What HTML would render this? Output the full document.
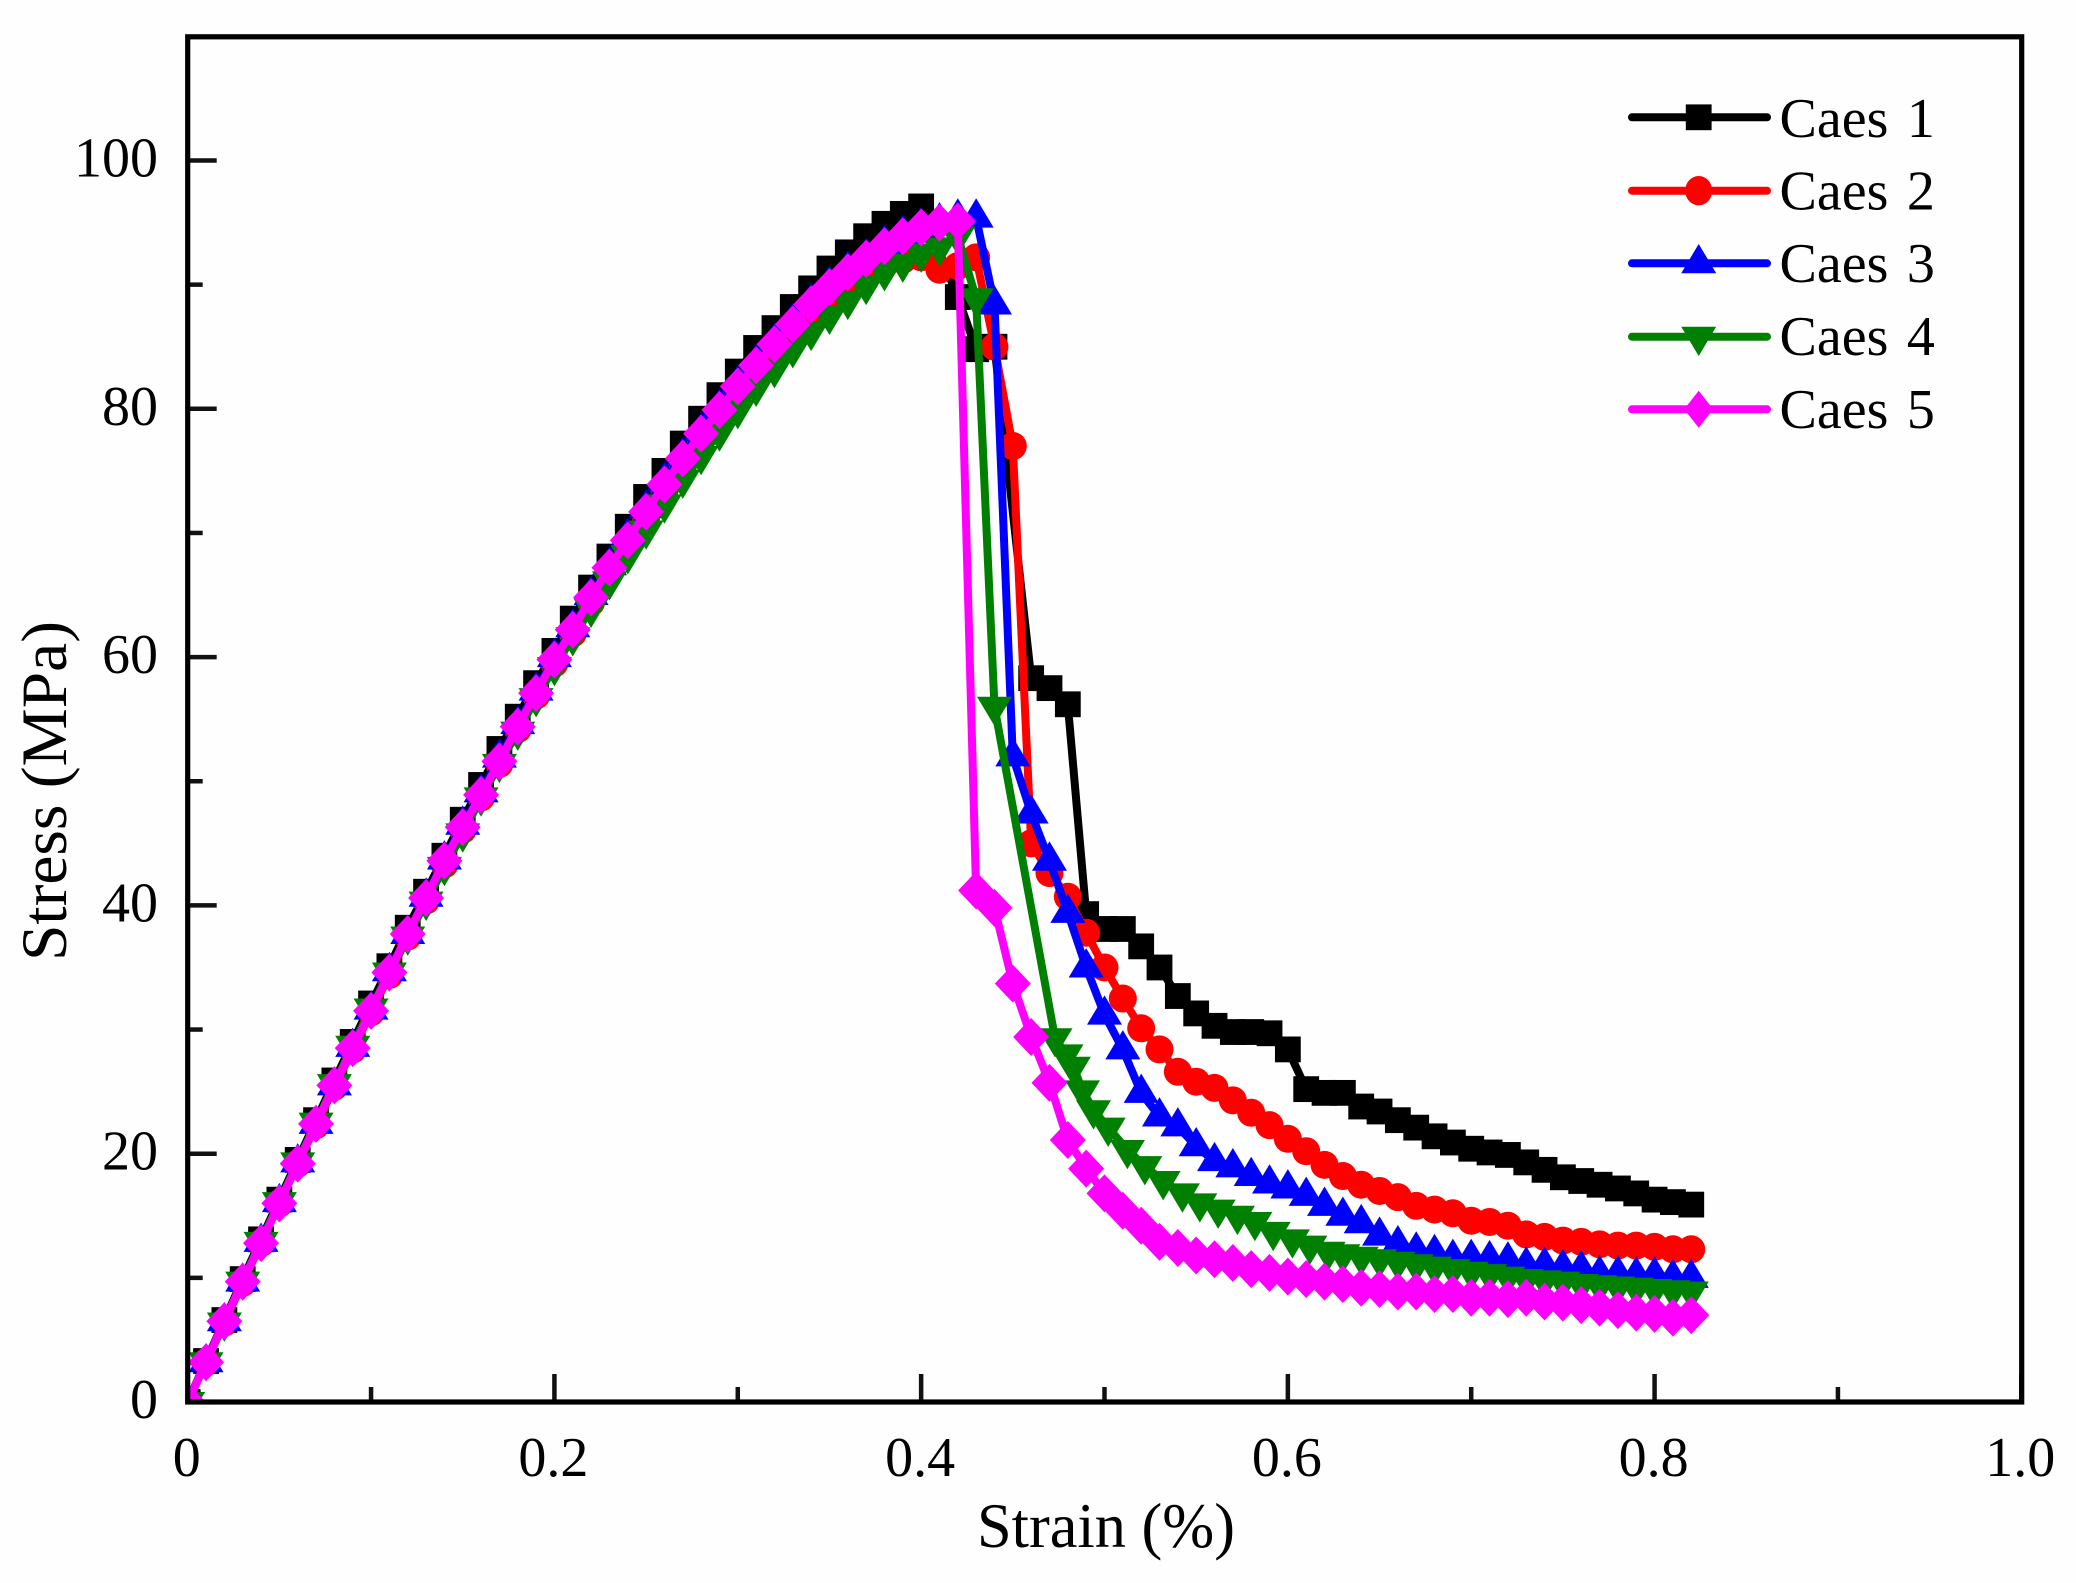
<!DOCTYPE html>
<html lang="en">
<head>
<meta charset="utf-8">
<title>Stress-strain curves</title>
<style>
html,body{margin:0;padding:0;background:#fefefe;}
svg{display:block;font-family:"Liberation Serif",serif;}
text{fill:#000;}
</style>
</head>
<body>
<svg id="chart" xmlns="http://www.w3.org/2000/svg" width="2076" height="1583" viewBox="0 0 2076 1583">
  <rect x="0" y="0" width="2076" height="1583" fill="#fefefe"/>
  <defs>
    <clipPath id="plot-clip"><rect x="187.7" y="36.8" width="1834" height="1365.2"/></clipPath>
  </defs>
  <g id="series-layer" clip-path="url(#plot-clip)"></g>
  <g id="tick-layer"></g>
  <rect x="187.7" y="36.8" width="1834" height="1365.2" fill="none" stroke="#000" stroke-width="5.2"/>
  <g id="label-layer" font-size="56"></g>
  <text x="1106" y="1547" font-size="63" text-anchor="middle" textLength="258" lengthAdjust="spacingAndGlyphs">Strain (%)</text>
  <text transform="translate(66,791) rotate(-90)" font-size="65" text-anchor="middle" textLength="340" lengthAdjust="spacingAndGlyphs">Stress (MPa)</text>

  <g font-size="56" word-spacing="4.5">
    <g>
      <line x1="1632" y1="117.3" x2="1767" y2="117.3" stroke="#000" stroke-width="8" stroke-linecap="round"/>
      <rect x="1685.8" y="104.4" width="25.8" height="25.8" fill="#000"/>
      <text x="1779.5" y="137">Caes 1</text>
    </g>
    <g>
      <line x1="1632" y1="190.7" x2="1767" y2="190.7" stroke="#f00" stroke-width="8" stroke-linecap="round"/>
      <ellipse cx="1698.7" cy="190.7" rx="13.5" ry="14.7" fill="#f00"/>
      <text x="1779.5" y="209.5">Caes 2</text>
    </g>
    <g>
      <line x1="1632" y1="263.3" x2="1767" y2="263.3" stroke="#00f" stroke-width="8" stroke-linecap="round"/>
      <polygon points="1698.7,244 1716.2,273.3 1681.2,273.3" fill="#00f"/>
      <text x="1779.5" y="282">Caes 3</text>
    </g>
    <g>
      <line x1="1632" y1="336.7" x2="1767" y2="336.7" stroke="#008000" stroke-width="8" stroke-linecap="round"/>
      <polygon points="1698.7,356 1716.2,326.7 1681.2,326.7" fill="#008000"/>
      <text x="1779.5" y="355">Caes 4</text>
    </g>
    <g>
      <line x1="1632" y1="409.3" x2="1767" y2="409.3" stroke="#f0f" stroke-width="8" stroke-linecap="round"/>
      <polygon points="1698.7,390.8 1713.2,409.3 1698.7,427.8 1684.2,409.3" fill="#f0f"/>
      <text x="1779.5" y="428">Caes 5</text>
    </g>
  </g>
</svg>
<script>
var xMajorTicks = [0, 0.2, 0.4, 0.6, 0.8, 1.0];
var xTickLabels = ["0", "0.2", "0.4", "0.6", "0.8", "1.0"];
var xMinorTicks = [0.1, 0.3, 0.5, 0.7, 0.9];
var yMajorTicks = [0, 20, 40, 60, 80, 100];
var yTickLabels = ["0", "20", "40", "60", "80", "100"];
var yMinorTicks = [10, 30, 50, 70, 90];

var strainGrid = [
0,0.01,0.02,0.03,0.04,0.05,0.06,0.07,0.08,0.09,
0.10,0.11,0.12,0.13,0.14,0.15,0.16,0.17,0.18,0.19,
0.20,0.21,0.22,0.23,0.24,0.25,0.26,0.27,0.28,0.29,
0.30,0.31,0.32,0.33,0.34,0.35,0.36,0.37,0.38,0.39,
0.40,0.41,0.42,0.43,0.44,0.45,0.46,0.47,0.48,0.49,
0.50,0.51,0.52,0.53,0.54,0.55,0.56,0.57,0.58,0.59,
0.60,0.61,0.62,0.63,0.64,0.65,0.66,0.67,0.68,0.69,
0.70,0.71,0.72,0.73,0.74,0.75,0.76,0.77,0.78,0.79,
0.80,0.81,0.82];

var caes1Strain = [
0,0.01,0.02,0.03,0.04,0.05,0.06,0.07,0.08,0.09,
0.10,0.11,0.12,0.13,0.14,0.15,0.16,0.17,0.18,0.19,
0.20,0.21,0.22,0.23,0.24,0.25,0.26,0.27,0.28,0.29,
0.30,0.31,0.32,0.33,0.34,0.35,0.36,0.37,0.38,0.39,
0.40,0.42,0.43,0.44,0.46,0.47,0.48,0.49,
0.50,0.51,0.52,0.53,0.54,0.55,0.56,0.57,0.58,0.59,
0.60,0.61,0.62,0.63,0.64,0.65,0.66,0.67,0.68,0.69,
0.70,0.71,0.72,0.73,0.74,0.75,0.76,0.77,0.78,0.79,
0.80,0.81,0.82];

var caes1Stress = [
0,3.3,6.6,9.9,13.1,16.3,19.5,22.7,25.9,29.0,
32.1,35.1,38.2,41.1,44.0,46.9,49.7,52.6,55.2,57.9,
60.5,63.1,65.6,68.1,70.5,72.9,75.0,77.2,79.2,81.1,
83.0,84.9,86.5,88.2,89.7,91.3,92.6,93.9,94.9,95.7,
96.3,89.0,84.8,85.0,58.3,57.5,56.2,39.3,
38.1,38.1,36.7,35.0,32.7,31.3,30.3,29.8,29.8,29.7,
28.4,25.2,24.9,24.9,23.8,23.4,22.7,22.1,21.4,20.9,
20.4,20.1,19.9,19.3,18.7,18.1,17.8,17.5,17.2,16.8,
16.3,16.1,15.9];

var caes2Stress = [
0,3.2,6.4,9.6,12.8,16.0,19.2,22.3,25.4,28.4,
31.4,34.4,37.5,40.4,43.3,46.1,48.7,51.4,54.2,56.9,
59.5,61.9,64.4,66.8,69.0,71.2,73.4,75.4,77.4,79.3,
81.1,82.8,84.4,85.9,87.4,88.7,89.8,90.8,91.6,92.0,
92.2,91.2,91.5,92.2,85.0,77.0,45.0,42.6,40.7,37.8,
35.0,32.5,30.1,28.4,26.6,25.8,25.3,24.3,23.3,22.3,
21.2,20.2,19.1,18.2,17.5,17.0,16.5,15.8,15.5,15.2,
14.6,14.5,14.2,13.5,13.3,13.0,12.9,12.7,12.6,12.6,
12.5,12.3,12.3];

var caes3Stress = [
0,3.2,6.5,9.7,12.9,16.1,19.3,22.4,25.5,28.6,
31.6,34.7,37.7,40.7,43.7,46.5,49.1,51.9,54.6,57.3,
60.0,62.4,65.0,67.4,69.7,72.0,74.2,76.2,78.2,80.1,
82.0,83.7,85.4,87.0,88.6,90.0,91.2,92.2,93.3,94.1,
94.7,95.1,95.4,95.4,88.4,52.0,47.4,43.6,39.4,35.0,
31.2,28.4,24.9,23.0,22.2,20.6,19.4,18.9,18.2,17.6,
17.2,16.6,15.8,15.0,14.4,13.4,12.7,12.2,12.0,11.6,
11.6,11.5,11.4,11.0,11.0,10.8,10.7,10.3,10.3,10.2,
10.2,10.0,10.0];

var caes4Strain = [
0,0.01,0.02,0.03,0.04,0.05,0.06,0.07,0.08,0.09,
0.10,0.11,0.12,0.13,0.14,0.15,0.16,0.17,0.18,0.19,
0.20,0.21,0.22,0.23,0.24,0.25,0.26,0.27,0.28,0.29,
0.30,0.31,0.32,0.33,0.34,0.35,0.36,0.37,0.38,0.39,
0.40,0.41,0.42,0.43,0.44,
0.473,0.479,0.483,0.488,0.494,0.502,0.5125,0.522,0.532,0.5425,
0.552,0.562,0.5725,0.582,0.592,0.6025,0.612,0.622,
0.63,0.64,0.65,0.66,0.67,0.68,0.69,
0.70,0.71,0.72,0.73,0.74,0.75,0.76,0.77,0.78,0.79,
0.80,0.81,0.82];

var caes4Stress = [
0,3.2,6.4,9.7,12.9,16.1,19.3,22.5,25.6,28.7,
31.7,34.6,37.5,40.3,43.1,45.8,48.7,51.4,54.0,56.7,
59.2,61.6,63.9,66.1,68.2,70.2,72.3,74.3,76.2,78.1,
79.9,81.7,83.2,84.8,86.2,87.5,88.7,89.9,91.0,91.7,
92.5,93.0,93.9,88.9,56.0,
29.3,28.0,27.0,25.1,23.5,22.1,20.3,19.0,17.8,16.8,
16.0,15.5,15.0,14.5,13.7,13.1,12.6,12.1,
11.9,11.7,11.5,11.3,11.1,10.9,10.7,
10.5,10.3,10.1,9.9,9.8,9.7,9.5,9.4,9.3,9.2,
9.1,9.0,8.9];

var caes5Stress = [
0,3.2,6.5,9.7,12.8,16.0,19.2,22.4,25.5,28.5,
31.5,34.6,37.7,40.6,43.6,46.3,48.9,51.6,54.4,57.1,
59.8,62.2,64.8,67.2,69.4,71.7,73.9,76.0,78.0,79.9,
81.8,83.5,85.2,86.8,88.4,89.8,91.0,92.1,93.1,93.9,
94.6,95.0,95.1,41.2,39.8,33.7,29.4,25.7,21.1,18.8,
16.8,15.4,14.2,12.9,12.4,11.8,11.5,11.2,10.7,10.4,
10.1,9.9,9.7,9.5,9.2,9.1,8.9,8.9,8.7,8.7,
8.4,8.4,8.3,8.4,8.1,8.0,7.8,7.6,7.4,7.2,
7.1,6.8,7.0];

var NS = "http://www.w3.org/2000/svg";
function xScale(v) { return 187.7 + v * 1833.6; }
function yScale(v) { return 1402 - v * 12.415; }

var seriesLayer = document.getElementById("series-layer");
var tickLayer = document.getElementById("tick-layer");
var labelLayer = document.getElementById("label-layer");

function make(tag, attrs, parent) {
  var el = document.createElementNS(NS, tag);
  for (var k in attrs) { el.setAttribute(k, attrs[k]); }
  parent.appendChild(el);
  return el;
}

function drawMarker(kind, x, y, color, parent, name) {
  var el;
  if (kind === "square") {
    el = make("rect", {x: x - 12.9, y: y - 12.9, width: 25.8, height: 25.8, fill: color}, parent);
  } else if (kind === "circle") {
    el = make("circle", {cx: x, cy: y, r: 14, fill: color}, parent);
  } else if (kind === "up") {
    el = make("polygon", {points: x + "," + (y - 19.3) + " " + (x + 17.5) + "," + (y + 10) + " " + (x - 17.5) + "," + (y + 10), fill: color}, parent);
  } else if (kind === "down") {
    el = make("polygon", {points: x + "," + (y + 19.3) + " " + (x + 17.5) + "," + (y - 10) + " " + (x - 17.5) + "," + (y - 10), fill: color}, parent);
  } else {
    el = make("polygon", {points: x + "," + (y - 19) + " " + (x + 18) + "," + y + " " + x + "," + (y + 19) + " " + (x - 18) + "," + y, fill: color}, parent);
  }
  
  
}

function drawSeries(name, strain, stress, color, kind) {
  var g = make("g", {}, seriesLayer);
  
  
  var pts = [];
  for (var i = 0; i < stress.length; i++) {
    pts.push(xScale(strain[i]).toFixed(1) + "," + yScale(stress[i]).toFixed(1));
  }
  var line = make("polyline", {points: pts.join(" "), fill: "none", stroke: color, "stroke-width": 8, "stroke-linejoin": "round"}, g);
  
  
  for (var j = 0; j < stress.length; j++) {
    drawMarker(kind, xScale(strain[j]), yScale(stress[j]), color, g, name + '-point');
  }
}

drawSeries("caes-1", caes1Strain, caes1Stress, "#000000", "square");
drawSeries("caes-2", strainGrid, caes2Stress, "#ff0000", "circle");
drawSeries("caes-3", strainGrid, caes3Stress, "#0000ff", "up");
drawSeries("caes-4", caes4Strain, caes4Stress, "#008000", "down");
drawSeries("caes-5", strainGrid, caes5Stress, "#ff00ff", "diamond");

function xTick(v, len, name) {
  var t = make("line", {x1: xScale(v), x2: xScale(v), y1: 1402, y2: 1402 - len, stroke: "#111", "stroke-width": 4.5}, tickLayer);
  
  
}
function yTick(v, len, name) {
  var t = make("line", {x1: 187.7, x2: 187.7 + len, y1: yScale(v), y2: yScale(v), stroke: "#111", "stroke-width": 4.5}, tickLayer);
  
  
}
xMajorTicks.forEach(function (v) { xTick(v, 28, 'x-major-tick'); });
xMinorTicks.forEach(function (v) { xTick(v, 15, 'x-minor-tick'); });
yMajorTicks.forEach(function (v) { yTick(v, 29, 'y-major-tick'); });
yMinorTicks.forEach(function (v) { yTick(v, 15, 'y-minor-tick'); });

xMajorTicks.forEach(function (v, i) {
  var t = make("text", {x: xScale(v) - 1, y: 1476, "text-anchor": "middle"}, labelLayer);
  t.textContent = xTickLabels[i];
  
  
});
yMajorTicks.forEach(function (v, i) {
  var t = make("text", {x: 158, y: yScale(v) + 16, "text-anchor": "end"}, labelLayer);
  t.textContent = yTickLabels[i];
  
  
});
</script>
</body>
</html>
